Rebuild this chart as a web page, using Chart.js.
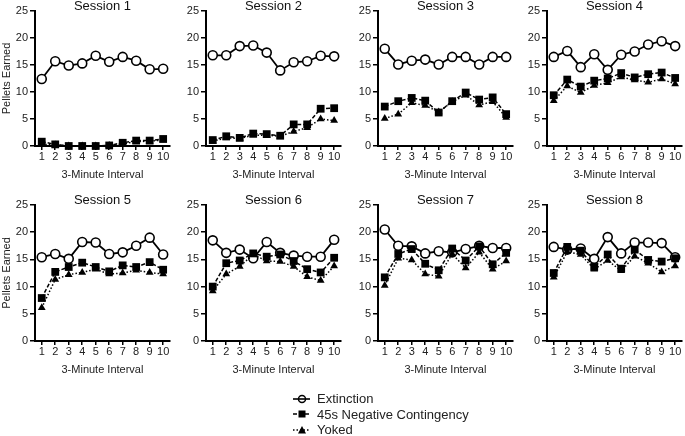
<!DOCTYPE html>
<html lang="en">
<head>
<meta charset="UTF-8">
<title>Pellets Earned per 3-Minute Interval, Sessions 1-8</title>
<script src="https://cdn.jsdelivr.net/npm/chart.js"></script>
<style>
  body { margin: 0; background: #fff; width: 685px; height: 436px; overflow: hidden; position: relative; font-family: "Liberation Sans", Arial, sans-serif; }
  .panel { position: absolute; }
  .legend { position: absolute; left: 293px; top: 391px; font-size: 13px; color: #222; }
  .legend div { height: 15.5px; display: flex; align-items: center; white-space: nowrap; }
  .legend svg { margin-right: 7px; }
</style>
</head>
<body>
<div id="panels"></div>

<!-- legend under the grid -->
<div class="legend">
  <div>
    <svg width="17" height="12"><line x1="0" y1="6" x2="17" y2="6" stroke="#000" stroke-width="1.6"/><circle cx="9" cy="6" r="3.5" fill="none" stroke="#000" stroke-width="1.5"/></svg>
    Extinction
  </div>
  <div>
    <svg width="17" height="12"><line x1="0" y1="6" x2="17" y2="6" stroke="#000" stroke-width="1.5" stroke-dasharray="4,2"/><rect x="5.5" y="2.5" width="7" height="7" fill="#000"/></svg>
    45s Negative Contingency
  </div>
  <div>
    <svg width="17" height="12"><line x1="0" y1="6" x2="17" y2="6" stroke="#000" stroke-width="1.5" stroke-dasharray="1.5,2"/><polygon points="9,2 13,9.5 5,9.5" fill="#000"/></svg>
    Yoked
  </div>
</div>

<script>
const intervals = ["1", "2", "3", "4", "5", "6", "7", "8", "9", "10"];
const sessionTitles = ["Session 1", "Session 2", "Session 3", "Session 4",
                       "Session 5", "Session 6", "Session 7", "Session 8"];
const yTicks = [0, 5, 10, 15, 20, 25];

// one row per session
const extinction = [
  [12.4, 15.7, 14.9, 15.3, 16.7, 15.6, 16.5, 15.8, 14.2, 14.3],
  [16.8, 16.8, 18.5, 18.6, 17.3, 14.0, 15.5, 15.7, 16.7, 16.6],
  [18.0, 15.1, 15.8, 16.0, 15.1, 16.5, 16.5, 15.1, 16.5, 16.5],
  [16.5, 17.6, 14.6, 17.0, 14.1, 16.9, 17.5, 18.8, 19.4, 18.5],
  [15.4, 16.0, 15.1, 18.2, 18.1, 16.0, 16.3, 17.5, 19.0, 15.9],
  [18.5, 16.2, 16.8, 15.2, 18.2, 16.2, 15.7, 15.5, 15.5, 18.6],
  [20.5, 17.5, 17.4, 16.1, 16.5, 16.3, 16.9, 17.5, 17.1, 17.1],
  [17.3, 16.8, 17.0, 15.1, 19.1, 16.1, 18.1, 18.1, 18.0, 15.4]
];
const negContingency = [
  [0.8, 0.3, 0, 0, 0, 0.1, 0.6, 1.0, 1.0, 1.3],
  [1.1, 1.8, 1.5, 2.3, 2.2, 1.9, 4.0, 4.0, 6.9, 7.0],
  [7.3, 8.3, 8.9, 8.4, 6.2, 8.3, 9.9, 8.6, 9.0, 5.9],
  [9.4, 12.3, 11.0, 12.1, 12.5, 13.5, 12.7, 13.3, 13.6, 12.6],
  [7.9, 12.7, 13.6, 14.4, 13.6, 12.8, 13.9, 13.6, 14.5, 13.1],
  [10.0, 14.3, 14.8, 16.1, 15.5, 15.9, 14.7, 13.2, 12.6, 15.3],
  [11.7, 16.0, 16.9, 14.2, 13.0, 17.0, 14.8, 17.4, 14.1, 16.2],
  [12.5, 17.3, 16.6, 13.6, 15.9, 13.3, 16.8, 14.9, 14.6, 15.2]
];
const yoked = [
  [0.3, 0.2, 0, 0, 0, 0.1, 0.4, 0.8, 0.9, 1.1],
  [0.9, 1.5, 1.4, 2.0, 2.0, 1.8, 2.7, 3.4, 5.0, 4.7],
  [5.1, 5.9, 8.0, 7.5, 6.3, 8.2, 9.4, 7.6, 8.2, 5.3],
  [8.4, 11.1, 9.9, 11.2, 11.7, 12.8, 12.2, 11.8, 12.4, 11.5],
  [6.1, 11.3, 12.2, 12.6, 13.2, 12.3, 12.5, 13.0, 12.6, 12.3],
  [9.2, 12.3, 13.7, 15.9, 14.7, 14.6, 13.7, 11.8, 11.1, 13.8],
  [10.2, 15.2, 14.9, 12.3, 11.9, 16.0, 13.4, 16.3, 13.2, 14.7],
  [11.7, 16.4, 15.9, 13.2, 14.8, 12.9, 15.6, 14.3, 12.7, 13.8]
];

// panel grid placement
const colLeft = [0, 171, 343, 512];
const rowTop = [0, 194];
const rowHeight = [182, 183];
const panelWidth = 176;

const textColor = "#222";
Chart.defaults.font.family = "'Liberation Sans', Arial, sans-serif";

function makePanel(i) {
  const col = i % 4, row = Math.floor(i / 4);
  const box = document.createElement("div");
  box.className = "panel";
  box.style.left = colLeft[col] + "px";
  box.style.top = rowTop[row] + "px";
  const cv = document.createElement("canvas");
  cv.width = panelWidth;
  cv.height = rowHeight[row];
  box.appendChild(cv);
  document.getElementById("panels").appendChild(box);

  new Chart(cv, {
    type: "line",
    data: {
      labels: intervals,
      datasets: [
        {
          label: "45s Negative Contingency",
          data: negContingency[i],
          borderColor: "#000",
          borderWidth: 1.5,
          borderDash: [4, 2],
          pointStyle: "rect",
          pointRadius: 5.5,
          pointBackgroundColor: "#000",
          pointBorderColor: "#000",
          pointBorderWidth: 0,
          tension: 0,
          clip: false
        },
        {
          label: "Yoked",
          data: yoked[i],
          borderColor: "#000",
          borderWidth: 1.5,
          borderDash: [1.5, 2],
          pointStyle: "triangle",
          pointRadius: 4.5,
          pointBackgroundColor: "#000",
          pointBorderColor: "#000",
          pointBorderWidth: 0,
          tension: 0,
          clip: false
        },
        {
          label: "Extinction",
          data: extinction[i],
          borderColor: "#000",
          borderWidth: 1.8,
          pointStyle: "circle",
          pointRadius: 4.5,
          pointBackgroundColor: "#fff",
          pointBorderColor: "#000",
          pointBorderWidth: 1.6,
          tension: 0,
          clip: false
        }
      ]
    },
    options: {
      responsive: false,
      animation: false,
      layout: { padding: { right: 3 } },
      plugins: {
        legend: { display: false },
        tooltip: { enabled: false },
        title: {
          display: true,
          text: sessionTitles[i],
          fullSize: false,
          color: "#111",
          font: { size: 13, weight: "normal", lineHeight: 1 },
          padding: { top: 0, bottom: -2 }
        }
      },
      scales: {
        x: {
          offset: true,
          grid: { drawOnChartArea: false, drawTicks: true, tickLength: 4, color: "#000", lineWidth: 1.5, offset: false },
          border: { color: "#000", width: 2 },
          ticks: { color: textColor, font: { size: 11 }, padding: 0, maxRotation: 0, autoSkip: false },
          title: { display: true, text: "3-Minute Interval", color: textColor, font: { size: 11 }, padding: 0 },
          afterFit: s => { s.height = 36; }
        },
        y: {
          min: 0,
          max: 25,
          afterBuildTicks: s => { s.ticks = yTicks.map(v => ({ value: v })); },
          grid: { drawOnChartArea: false, drawTicks: true, tickLength: 5, color: "#000", lineWidth: 1.5 },
          border: { color: "#000", width: 2 },
          ticks: { color: textColor, font: { size: 11 }, padding: 2 },
          title: { display: col === 0, text: "Pellets Earned", color: textColor, font: { size: 11 }, padding: 0 },
          afterFit: s => { s.width = 35; }
        }
      }
    }
  });
}

for (let i = 0; i < sessionTitles.length; i++) makePanel(i);
</script>
</body>
</html>
